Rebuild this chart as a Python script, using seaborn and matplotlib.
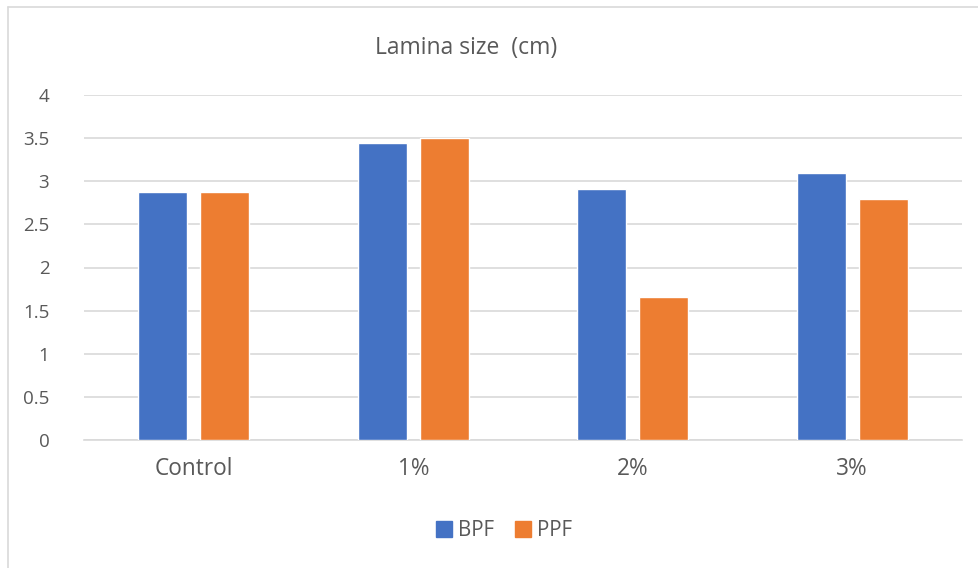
import matplotlib
matplotlib.use("Agg")
import matplotlib.pyplot as plt
from matplotlib.lines import Line2D
import pandas as pd
import seaborn as sns

categories = ["Control", "1%", "2%", "3%"]
bpf = [2.87, 3.44, 2.91, 3.10]
ppf = [2.87, 3.50, 1.66, 2.80]
series_names = ["BPF", "PPF"]
colors = ["#4472C4", "#ED7D31"]
y_ticks = [0, 0.5, 1, 1.5, 2, 2.5, 3, 3.5, 4]
y_tick_labels = ["0", "0.5", "1", "1.5", "2", "2.5", "3", "3.5", "4"]
title = "Lamina size  (cm)"

df = pd.DataFrame({
    "category": categories * 2,
    "value": bpf + ppf,
    "series": [series_names[0]] * len(categories) + [series_names[1]] * len(categories),
})

sns.set_theme(style="white")
plt.rcParams["font.family"] = ["Open Sans", "DejaVu Sans"]
text_color = "#595959"
grid_color = "#D9D9D9"

fig = plt.figure(figsize=(9.79, 5.68), dpi=100)
ax = fig.add_axes([84 / 979, 1 - 440 / 568, (962 - 84) / 979, (440 - 95) / 568])

sns.barplot(data=df, x="category", y="value", hue="series", order=categories,
            hue_order=series_names, palette=colors, width=0.566, gap=0.21,
            saturation=1, legend=False, ax=ax, zorder=3)

ax.set_ylim(0, 4)
ax.set_xlim(-0.5, len(categories) - 0.5)
ax.set_yticks(y_ticks)
ax.set_yticklabels(y_tick_labels)
ax.yaxis.grid(True, color=grid_color, linewidth=1.2, zorder=0)
ax.set_axisbelow(True)
for side in ["top", "right", "left"]:
    ax.spines[side].set_visible(False)
ax.spines["bottom"].set_color(grid_color)
ax.spines["bottom"].set_linewidth(1.2)
ax.set_xlabel("")
ax.set_ylabel("")
ax.tick_params(axis="both", length=0, colors=text_color)
ax.tick_params(axis="y", labelsize=13.5, pad=25)
ax.tick_params(axis="x", labelsize=16.3, pad=12)
for lab in ax.get_yticklabels():
    lab.set_horizontalalignment("right")

fig.text(466 / 979, 1 - 48 / 568, title, ha="center", va="center",
         fontsize=16.5, color=text_color)

handles = [Line2D([], [], marker="s", linestyle="none", markersize=11,
                  markerfacecolor=c, markeredgecolor=c) for c in colors]
fig.legend(handles, series_names, loc="center", bbox_to_anchor=(504 / 979, 1 - 531 / 568),
           ncol=2, frameon=False, fontsize=14.8, labelcolor=text_color,
           handlelength=0.8, handletextpad=0.3, columnspacing=1.0)

# light frame around the chart area
fig.add_artist(Line2D([8 / 979, 8 / 979], [0, 1 - 7 / 568], transform=fig.transFigure,
                      color=grid_color, linewidth=1.2))
fig.add_artist(Line2D([8 / 979, 1], [1 - 7 / 568, 1 - 7 / 568], transform=fig.transFigure,
                      color=grid_color, linewidth=1.2))

fig.savefig("out.png", dpi=100, facecolor="white")
